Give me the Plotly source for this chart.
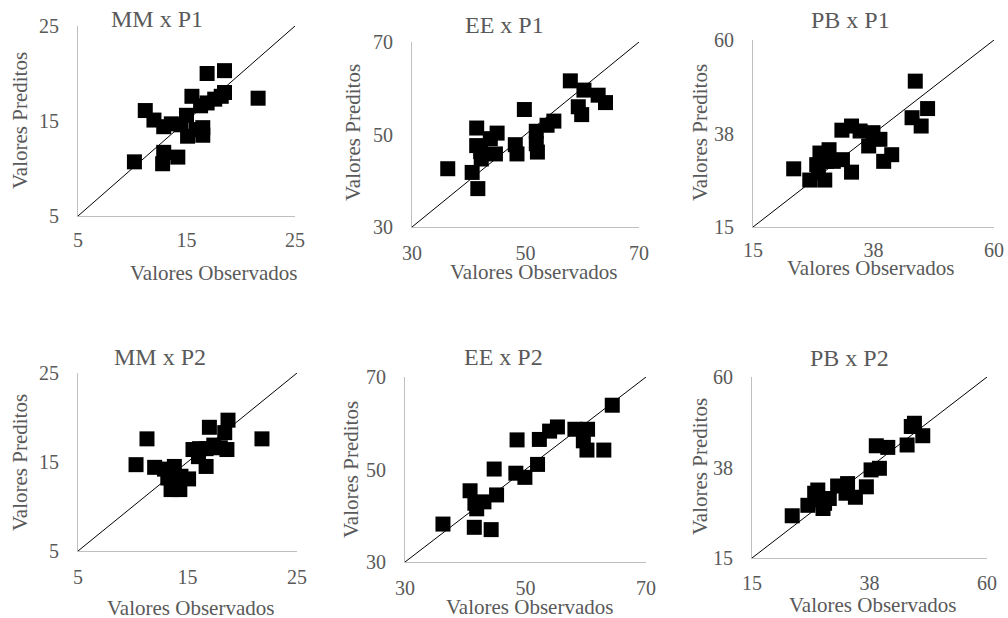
import plotly.graph_objects as go

W, H = 1008, 618

# ---- data ----
mm_p1_obs = [10.2, 11.2, 12.0, 12.9, 13.6, 14.5, 15.0, 15.1, 15.9, 16.5, 16.5, 12.9, 12.8, 14.2, 15.5, 16.9, 18.5, 16.9, 17.6, 18.2, 18.5, 21.6, 16.3]
mm_p1_pred = [10.7, 16.1, 15.1, 14.4, 14.7, 14.6, 15.6, 13.4, 14.1, 14.3, 13.5, 11.7, 10.5, 11.2, 17.6, 20.0, 20.3, 16.9, 17.3, 17.6, 18.0, 17.4, 16.6]

ee_p1_obs = [36.3, 40.6, 41.6, 41.4, 41.4, 42.2, 42.1, 43.8, 45.0, 44.7, 48.2, 48.5, 49.8, 51.9, 51.9, 52.1, 53.8, 55.0, 57.9, 60.3, 59.3, 59.9, 62.8, 64.1]
ee_p1_pred = [42.6, 41.8, 38.3, 51.4, 47.6, 44.7, 46.3, 49.1, 50.3, 45.8, 47.8, 45.8, 55.4, 50.7, 48.0, 46.2, 52.0, 52.9, 61.6, 59.6, 56.0, 54.3, 58.5, 56.9]

pb_p1_obs = [22.6, 25.6, 28.4, 27.2, 26.9, 27.5, 29.2, 30.0, 31.7, 33.4, 31.6, 33.4, 35.0, 37.4, 38.7, 36.6, 39.4, 40.9, 45.3, 44.7, 46.4, 47.6, 28.7]
pb_p1_pred = [29.0, 26.3, 26.3, 28.0, 30.0, 32.8, 33.6, 30.8, 31.2, 28.2, 38.3, 39.3, 38.1, 37.7, 36.1, 34.5, 30.8, 32.4, 50.1, 41.3, 39.3, 43.5, 30.8]

mm_p2_obs = [10.3, 11.3, 12.0, 12.9, 13.8, 13.2, 13.5, 14.3, 15.1, 14.4, 15.5, 16.0, 16.7, 16.7, 17.4, 17.0, 18.4, 18.7, 18.6, 18.0, 21.8, 16.1]
mm_p2_pred = [14.7, 17.6, 14.4, 14.2, 14.5, 13.2, 11.9, 11.9, 13.1, 13.4, 16.4, 15.6, 14.5, 16.5, 16.9, 18.9, 18.3, 19.7, 16.4, 16.6, 17.6, 16.5]

ee_p2_obs = [36.3, 41.5, 44.3, 40.8, 41.6, 41.9, 43.1, 45.2, 44.8, 48.4, 49.9, 48.6, 52.0, 52.3, 54.0, 55.3, 58.2, 60.3, 59.6, 60.2, 63.0, 64.4]
ee_p2_pred = [38.2, 37.5, 37.0, 45.4, 42.7, 41.5, 43.0, 44.5, 50.1, 49.2, 48.3, 56.4, 51.1, 56.5, 58.3, 59.2, 58.7, 58.7, 56.2, 54.2, 54.2, 63.9]

pb_p2_obs = [22.7, 25.7, 27.0, 27.6, 28.6, 29.8, 31.4, 33.3, 33.0, 34.8, 36.9, 37.8, 39.4, 38.8, 41.0, 44.7, 46.1, 47.7, 45.5, 28.9, 27.6]
pb_p2_pred = [25.5, 28.1, 31.1, 29.4, 27.3, 29.8, 32.9, 33.5, 31.1, 30.1, 32.7, 36.9, 37.3, 42.9, 42.5, 43.1, 48.5, 45.4, 47.7, 28.6, 31.9]

titles = ["MM x P1", "EE x P1", "PB x P1", "MM x P2", "EE x P2", "PB x P2"]
mm_ticks = [5, 15, 25]
mm_ticktext = ["5", "15", "25"]
ee_ticks = [30, 50, 70]
ee_ticktext = ["30", "50", "70"]
pb_ticks = [15, 37.5, 60]
pb_ticktext = ["15", "38", "60"]

x_title = "Valores Observados"
y_title = "Valores Preditos"

# ---- layout geometry (pixels) ----
panels = [
    dict(obs=mm_p1_obs, pred=mm_p1_pred, ticks=mm_ticks, tt=mm_ticktext,
         box=(78, 295, 26, 216), title=(157, 19), xt=(213, 273), yt=(20, 121), xl=6),
    dict(obs=ee_p1_obs, pred=ee_p1_pred, ticks=ee_ticks, tt=ee_ticktext,
         box=(412, 639, 42, 227), title=(504, 25), xt=(533, 272), yt=(353, 133), xl=8),
    dict(obs=pb_p1_obs, pred=pb_p1_pred, ticks=pb_ticks, tt=pb_ticktext,
         box=(753, 994, 40, 227), title=(850, 20), xt=(870, 268), yt=(700, 133), xl=5),
    dict(obs=mm_p2_obs, pred=mm_p2_pred, ticks=mm_ticks, tt=mm_ticktext,
         box=(78, 297, 373, 551), title=(160, 357), xt=(190, 608), yt=(20, 463), xl=8),
    dict(obs=ee_p2_obs, pred=ee_p2_pred, ticks=ee_ticks, tt=ee_ticktext,
         box=(405, 646, 377, 562), title=(503, 357), xt=(529, 607), yt=(351, 470), xl=8),
    dict(obs=pb_p2_obs, pred=pb_p2_pred, ticks=pb_ticks, tt=pb_ticktext,
         box=(752, 987, 377, 558), title=(849, 358), xt=(872, 605), yt=(700, 467), xl=7),
]

FONT = "Liberation Serif, Times New Roman, serif"
GRAY = "#595959"

fig = go.Figure()
layout = dict(
    width=W, height=H, margin=dict(l=0, r=0, t=0, b=0, autoexpand=False),
    paper_bgcolor="white", plot_bgcolor="white", showlegend=False,
    font=dict(family=FONT, color=GRAY),
)
annotations = []
shapes = []


def px(x):
    return x / W


def py(y):
    return 1 - y / H


for i, p in enumerate(panels):
    n = i + 1
    xa = "x" if n == 1 else f"x{n}"
    ya = "y" if n == 1 else f"y{n}"
    xkey = "xaxis" if n == 1 else f"xaxis{n}"
    ykey = "yaxis" if n == 1 else f"yaxis{n}"
    x0, x1, y0, y1 = p["box"]
    lo, hi = p["ticks"][0], p["ticks"][-1]
    common = dict(range=[lo, hi], tickvals=p["ticks"], ticktext=p["tt"],
                  showgrid=False, zeroline=False, showline=True, automargin=False,
                  linecolor="#bfbfbf", linewidth=1, ticks="outside",
                  tickcolor="rgba(0,0,0,0)",
                  tickfont=dict(family=FONT, size=20, color=GRAY), fixedrange=True)
    layout[xkey] = dict(common, domain=[px(x0), px(x1)], anchor=ya, ticklen=p["xl"])
    layout[ykey] = dict(common, domain=[py(y1), py(y0)], anchor=xa, ticklen=14)
    fig.add_trace(go.Scatter(
        x=p["obs"], y=p["pred"], mode="markers", xaxis=xa, yaxis=ya,
        marker=dict(symbol="square", size=15, color="black"),
        cliponaxis=False, hoverinfo="x+y"))
    shapes.append(dict(type="line", xref=xa, yref=ya, x0=lo, y0=lo, x1=hi, y1=hi,
                       line=dict(color="black", width=1)))
    tx, ty = p["title"]
    annotations.append(dict(text=titles[i], x=px(tx), y=py(ty), xref="paper", yref="paper",
                            showarrow=False, xanchor="center", yanchor="middle",
                            font=dict(family=FONT, size=24, color=GRAY)))
    ax, ay = p["xt"]
    annotations.append(dict(text=x_title, x=px(ax), y=py(ay), xref="paper", yref="paper",
                            showarrow=False, xanchor="center", yanchor="middle",
                            font=dict(family=FONT, size=21, color=GRAY)))
    bx, by = p["yt"]
    annotations.append(dict(text=y_title, x=px(bx), y=py(by), xref="paper", yref="paper",
                            showarrow=False, xanchor="center", yanchor="middle", textangle=-90,
                            font=dict(family=FONT, size=21, color=GRAY)))

layout["annotations"] = annotations
layout["shapes"] = shapes
fig.update_layout(**layout)
fig.write_html(
    "out.html",
    config={"displayModeBar": False},
    post_script="document.body.style.margin='0';document.body.style.overflow='hidden';",
)
